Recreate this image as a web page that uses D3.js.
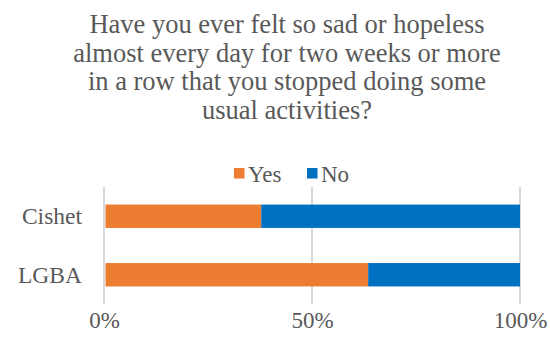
<!DOCTYPE html>
<html>
<head>
<meta charset="utf-8">
<script src="https://cdn.jsdelivr.net/npm/d3@7"></script>
</head>
<body style="margin:0;background:#fff">
<svg id="chart" width="550" height="343"></svg>
<script>
// Chart data
var titleLines = [
  'Have you ever felt so sad or hopeless',
  'almost every day for two weeks or more',
  'in a row that you stopped doing some',
  'usual activities?'
];
var categories = ['Cishet', 'LGBA'];
var yesValues = [37.8, 63.5];
var noValues = [62.2, 36.5];
var seriesNames = ['Yes', 'No'];
var seriesColors = ['#ED7D31', '#0070C0'];
var tickValues = [0, 50, 100];

var width = 550;
var height = 343;
var plot = { left: 104, right: 520, top: 187, bottom: 304 };
var serifFont = "'Liberation Serif', 'Times New Roman', Tinos, serif";
var textColor = '#595959';

var svg = d3.select('#chart');

// helper so every label gets the same font settings
var styleText = function styleText(sel, size) {
  sel.attr('font-family', serifFont)
    .attr('font-size', size)
    .attr('fill', textColor)
    .style('font-family', serifFont)
    .style('font-size', size + 'px');
};

// Title
svg.append('g').selectAll('text')
  .data(titleLines)
  .enter().append('text')
  .attr('x', 287)
  .attr('y', function(d, i) { return 33 + i * 28.5; })
  .attr('text-anchor', 'middle')
  .call(styleText, 26.5)
  .text(function(d) { return d; });

// Scales
var x = d3.scaleLinear().domain([0, 100]).range([plot.left, plot.right]);
var y = d3.scaleBand()
  .domain(categories)
  .range([plot.top, plot.bottom])
  .paddingInner(0.6)
  .paddingOuter(0.3);

// Gridlines
svg.append('g').selectAll('line')
  .data(tickValues)
  .enter().append('line')
  .attr('x1', function(d) { return x(d); })
  .attr('x2', function(d) { return x(d); })
  .attr('y1', plot.top)
  .attr('y2', plot.bottom)
  .attr('stroke', '#d9d9d9')
  .attr('stroke-width', 2);

// Stacked bars
var rows = categories.map(function(c, i) {
  return { cat: c, Yes: yesValues[i], No: noValues[i] };
});
var stacked = d3.stack().keys(seriesNames)(rows);

svg.append('g').selectAll('g')
  .data(stacked)
  .enter().append('g')
  .attr('fill', function(d, i) { return seriesColors[i]; })
  .selectAll('rect')
  .data(function(d) { return d; })
  .enter().append('rect')
  .attr('x', function(d) { return x(d[0]) + (d[0] === 0 ? 1.5 : 0); })
  .attr('width', function(d) { return x(d[1]) - x(d[0]) - (d[0] === 0 ? 1.5 : 0); })
  .attr('y', function(d) { return y(d.data.cat); })
  .attr('height', y.bandwidth());

// Category labels
svg.append('g').selectAll('text')
  .data(categories)
  .enter().append('text')
  .attr('x', 82)
  .attr('y', function(d) { return y(d) + y.bandwidth() / 2; })
  .attr('dy', '0.35em')
  .attr('text-anchor', 'end')
  .call(styleText, 23.5)
  .text(function(d) { return d; });

// X tick labels
var xAxis = svg.append('g')
  .attr('transform', 'translate(0,' + 328 + ')')
  .call(d3.axisBottom(x).tickValues(tickValues).tickSize(0).tickPadding(0)
    .tickFormat(function(d) { return d + '%'; }));
xAxis.attr('font-family', serifFont).attr('font-size', 23);
xAxis.select('.domain').remove();
xAxis.selectAll('text')
  .attr('y', 0)
  .attr('dy', 0)
  .call(styleText, 23);

// Legend
var legendPos = [234, 307];
var legend = svg.append('g').selectAll('g')
  .data(seriesNames)
  .enter().append('g')
  .attr('transform', function(d, i) { return 'translate(' + legendPos[i] + ',168)'; });
legend.append('rect')
  .attr('width', 10.5)
  .attr('height', 10.5)
  .attr('fill', function(d, i) { return seriesColors[i]; });
legend.append('text')
  .attr('x', 14)
  .attr('y', 5.5)
  .attr('dy', '0.35em')
  .call(styleText, 23)
  .text(function(d) { return d; });
</script>
</body>
</html>
